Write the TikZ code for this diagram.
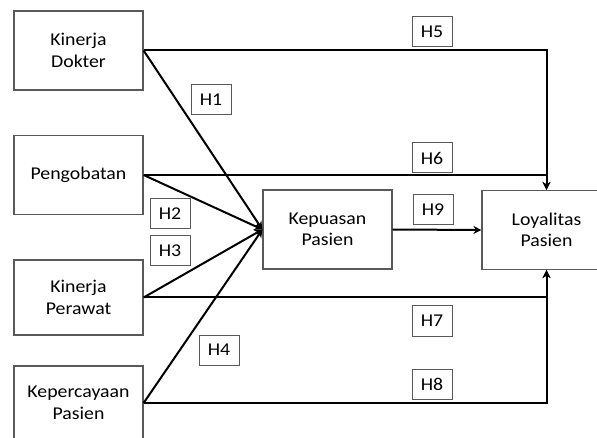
\documentclass[tikz,border=0pt]{standalone}
\usepackage{fontspec}
\setmainfont{Carlito}[FakeStretch=1.1]
\usetikzlibrary{arrows.meta}
\tikzset{
  varbox/.style={draw=black!65, line width=1.2pt, minimum width=129pt, minimum height=79pt, align=center, inner sep=0pt},
  hyplabel/.style={draw=black!65, line width=1pt, fill=white, minimum width=40pt, minimum height=30pt, inner sep=0pt},
  arr/.style={line width=2pt, -{Stealth[length=8pt,width=8pt]}}
}
\begin{document}
\begin{tikzpicture}[x=1pt, y=-1pt, font=\fontsize{18}{21.5}\selectfont]
			%%%%% START %%%%%
			\useasboundingbox (0,0) rectangle (597,438);
			\clip (0,0) rectangle (597,438);
			
			\node[varbox] (dokter) at (78.5, 50.5) {Kinerja\\Dokter};
			\node[varbox] (pengobatan) at (78.5, 175) {Pengobatan};
			\node[varbox, minimum height=75pt] (perawat) at (78.5, 297.5) {Kinerja\\Perawat};
			\node[varbox, minimum height=74pt] (percaya) at (78.5, 403) {Kepercayaan\\Pasien};
			\node[varbox] (puas) at (327.5, 229.5) {Kepuasan\\Pasien};
			\node[varbox] (loyal) at (546.5, 230) {Loyalitas\\Pasien};
			
			\draw[arr] (dokter.east) -| (loyal.north);
			\draw[arr] (pengobatan.east) -| (loyal.north);
			\draw[arr] (perawat.east) -| (loyal.south);
			\draw[arr] (percaya.east) -| (loyal.south);
			\draw[arr] (puas.east) -- (loyal.west);
			
			\draw[arr] (dokter.east) -- (puas.west);
			\draw[arr] (pengobatan.east) -- (puas.west);
			\draw[arr] (perawat.east) -- (puas.west);
			\draw[arr] (percaya.east) -- (puas.west);
			
			\node[hyplabel] (h1) at (211, 100) {H1};
			\node[hyplabel] (h2) at (170, 214) {H2};
			\node[hyplabel] (h3) at (170, 251) {H3};
			\node[hyplabel] (h4) at (219, 350) {H4};
			\node[hyplabel] (h5) at (432, 32) {H5};
			\node[hyplabel] (h6) at (432, 158) {H6};
			\node[hyplabel] (h7) at (432, 321) {H7};
			\node[hyplabel] (h8) at (432, 384) {H8};
			\node[hyplabel] (h9) at (433, 210) {H9};
			
			%%%%% END %%%%%
\end{tikzpicture}
\end{document}
